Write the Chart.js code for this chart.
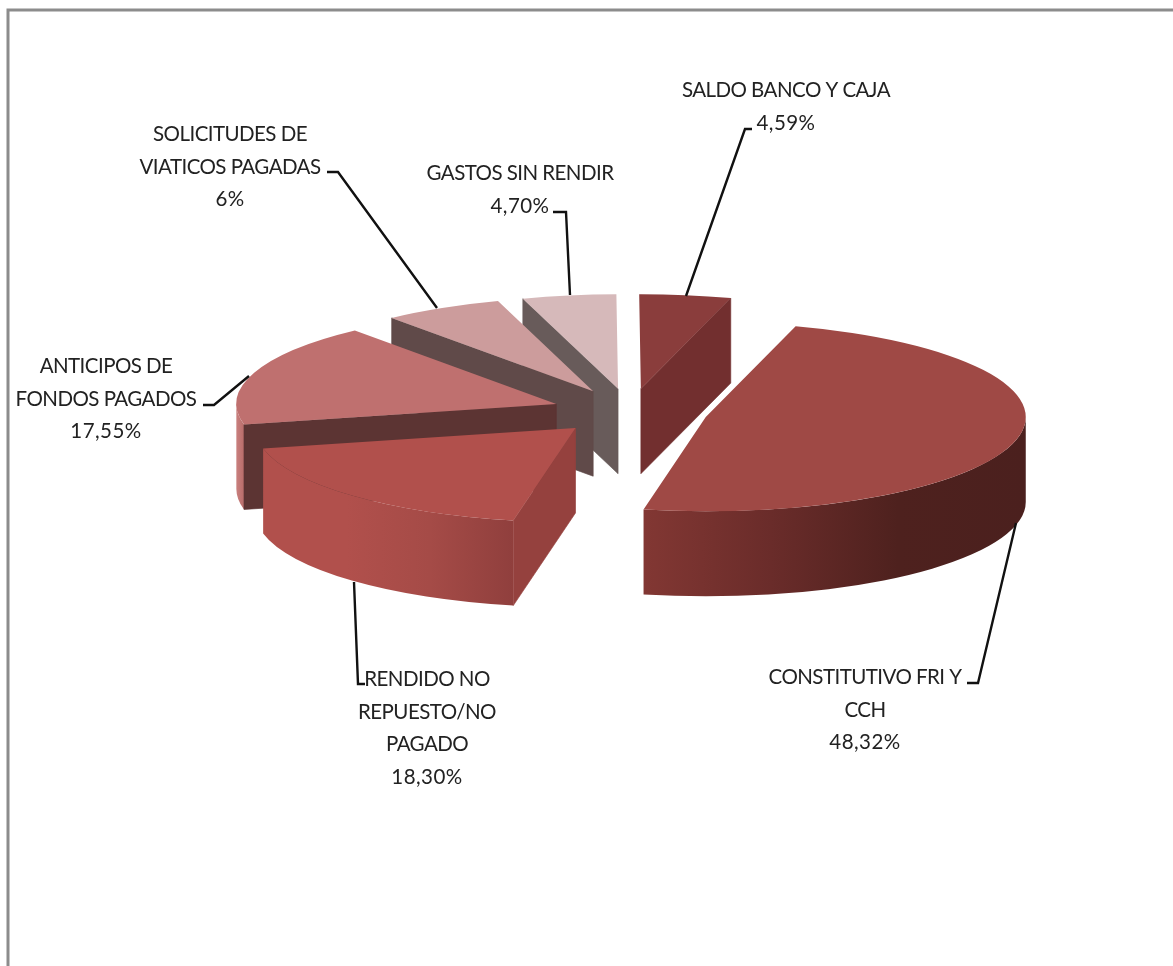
<!DOCTYPE html>
<html>
<head>
<meta charset="utf-8">
<style>
  html, body { margin: 0; padding: 0; background: #fff; }
  canvas { display: block; }
</style>
<script src="https://cdn.jsdelivr.net/npm/chart.js@4"></script>
</head>
<body>
<canvas id="myChart" width="1173" height="966"></canvas>
<script>
// clockwise from twelve o'clock
const categories = [
    ['SALDO BANCO Y CAJA'],
    ['CONSTITUTIVO FRI Y', 'CCH'],
    ['RENDIDO NO', 'REPUESTO/NO', 'PAGADO'],
    ['ANTICIPOS DE', 'FONDOS PAGADOS'],
    ['SOLICITUDES DE', 'VIATICOS PAGADAS'],
    ['GASTOS SIN RENDIR']
];
const values = [4.59, 48.32, 18.30, 17.55, 6, 4.70];

const faceColors = ['#8a3d3c', '#9f4945', '#b1504c', '#bf706f', '#cc9c9c', '#d6b9ba'];
const sideColors = ['#722f2f', '#5c2a27', '#95413e', '#5c3433', '#604a49', '#685b5a'];
const rimColors = [
    ['#722f2f', '#722f2f'],
    ['#823733', '#6a2c2a', '#4e211e', '#4b201e'],
    ['#b1504c', '#b1504c', '#a54b47', '#903f3d'],
    ['#c9807e', '#b86c6a'],
    ['#604a49', '#604a49'],
    ['#685b5a', '#685b5a']
];

// label block centre, first baseline, then the leader polyline
const labelSpots = [
    { x: 786, y: 97, line: [[752, 129], [745, 129], [686, 296]] },
    { x: 865, y: 684, line: [[967, 683], [978, 683], [1016, 523]] },
    { x: 427, y: 686, line: [[365, 684], [358, 684], [354, 582]] },
    { x: 106, y: 373, line: [[203, 405], [214, 405], [249, 376]] },
    { x: 230, y: 141, line: [[327, 172], [338, 172], [437, 308]] },
    { x: 520, y: 180, line: [[553, 212], [566, 212], [570, 295]] }
];

const squash = 0.295;
const depth = 85;
const explode = 78;
const lineHeight = 32.7;

function percentText(v) {
    if (Number.isInteger(v)) return v + '%';
    return v.toFixed(2).replace('.', ',') + '%';
}

function rimGradient(ctx, x0, x1, stops) {
    const g = ctx.createLinearGradient(x0, 0, x1, 0);
    stops.forEach((c, i) => g.addColorStop(i / (stops.length - 1), c));
    return g;
}

// squashes the library's arcs into an ellipse and extrudes them downwards
const pie3d = {
    id: 'pie3d',
    beforeDatasetsDraw(chart) {
        const ctx = chart.ctx;
        const arcs = chart.getDatasetMeta(0).data.map((arc, i) => ({ arc, i }));
        const mid = a => (a.arc.startAngle + a.arc.endAngle) / 2;
        arcs.sort((p, q) => Math.sin(mid(p)) - Math.sin(mid(q)));

        arcs.forEach(({ arc, i }) => {
            const a = arc.startAngle, b = arc.endAngle, r = arc.outerRadius;
            const h = depth / squash;
            const half = (a + b) / 2;
            ctx.save();
            ctx.translate(0, arc.y);
            ctx.scale(1, squash);
            ctx.translate(0, -arc.y);
            ctx.translate(Math.cos(half) * explode, Math.sin(half) * explode);

            const lo = Math.max(a, 0), hi = Math.min(b, Math.PI);
            if (lo < hi) {
                const xs = [Math.cos(lo), Math.cos(hi)];
                if (lo <= 0 && hi >= 0) xs.push(1);
                if (lo <= Math.PI && hi >= Math.PI) xs.push(-1);
                ctx.beginPath();
                ctx.arc(arc.x, arc.y, r, lo, hi);
                ctx.arc(arc.x, arc.y + h, r, hi, lo, true);
                ctx.closePath();
                ctx.fillStyle = rimGradient(ctx, arc.x + Math.min(...xs) * r, arc.x + Math.max(...xs) * r, rimColors[i]);
                ctx.fill();
            }

            // radial walls go over the rim so no seam shows where they meet
            const radialWall = ang => {
                ctx.beginPath();
                ctx.moveTo(arc.x, arc.y);
                ctx.lineTo(arc.x + Math.cos(ang) * r, arc.y + Math.sin(ang) * r);
                ctx.lineTo(arc.x + Math.cos(ang) * r, arc.y + Math.sin(ang) * r + h);
                ctx.lineTo(arc.x, arc.y + h);
                ctx.closePath();
                ctx.fillStyle = sideColors[i];
                ctx.strokeStyle = sideColors[i];
                ctx.lineWidth = 1;
                ctx.fill();
                ctx.stroke();
            };
            if (-Math.cos(a) > 0.01) radialWall(a);
            if (Math.cos(b) > 0.01) radialWall(b);

            arc.draw(ctx);
            ctx.restore();
        });
        return false;
    }
};

const sliceLabels = {
    id: 'sliceLabels',
    afterDraw(chart) {
        const ctx = chart.ctx;
        ctx.save();
        // outer frame, only top and left are visible
        ctx.strokeStyle = '#8c8c8c';
        ctx.lineWidth = 3;
        ctx.beginPath();
        ctx.moveTo(8, 966);
        ctx.lineTo(8, 10);
        ctx.lineTo(1173, 10);
        ctx.stroke();

        ctx.strokeStyle = '#111';
        ctx.lineWidth = 2.4;
        ctx.lineJoin = 'miter';
        ctx.font = '20.5px Lato';
        ctx.fillStyle = '#222';
        ctx.textAlign = 'center';
        labelSpots.forEach((spot, i) => {
            ctx.beginPath();
            spot.line.forEach((p, n) => n ? ctx.lineTo(p[0], p[1]) : ctx.moveTo(p[0], p[1]));
            ctx.stroke();
            const rows = categories[i];
            ctx.letterSpacing = '-0.55px';
            rows.forEach((row, n) => ctx.fillText(row, spot.x, spot.y + n * lineHeight));
            ctx.letterSpacing = '0.45px';
            ctx.fillText(percentText(values[i]), spot.x, spot.y + rows.length * lineHeight);
        });
        ctx.restore();
    }
};

const ctx = document.getElementById('myChart').getContext('2d');
const myChart = new Chart(ctx, {
    type: 'pie',
    data: {
        labels: categories.map(c => c.join(' ')),
        datasets: [{
            data: values,
            backgroundColor: faceColors,
            borderWidth: 0,
            radius: 320
        }]
    },
    options: {
        responsive: false,
        animation: false,
        events: [],
        rotation: -0.3,
        layout: { padding: { left: 87, bottom: 143 } },
        plugins: {
            legend: { display: false },
            tooltip: { enabled: false }
        }
    },
    plugins: [pie3d, sliceLabels]
});
</script>
</body>
</html>
